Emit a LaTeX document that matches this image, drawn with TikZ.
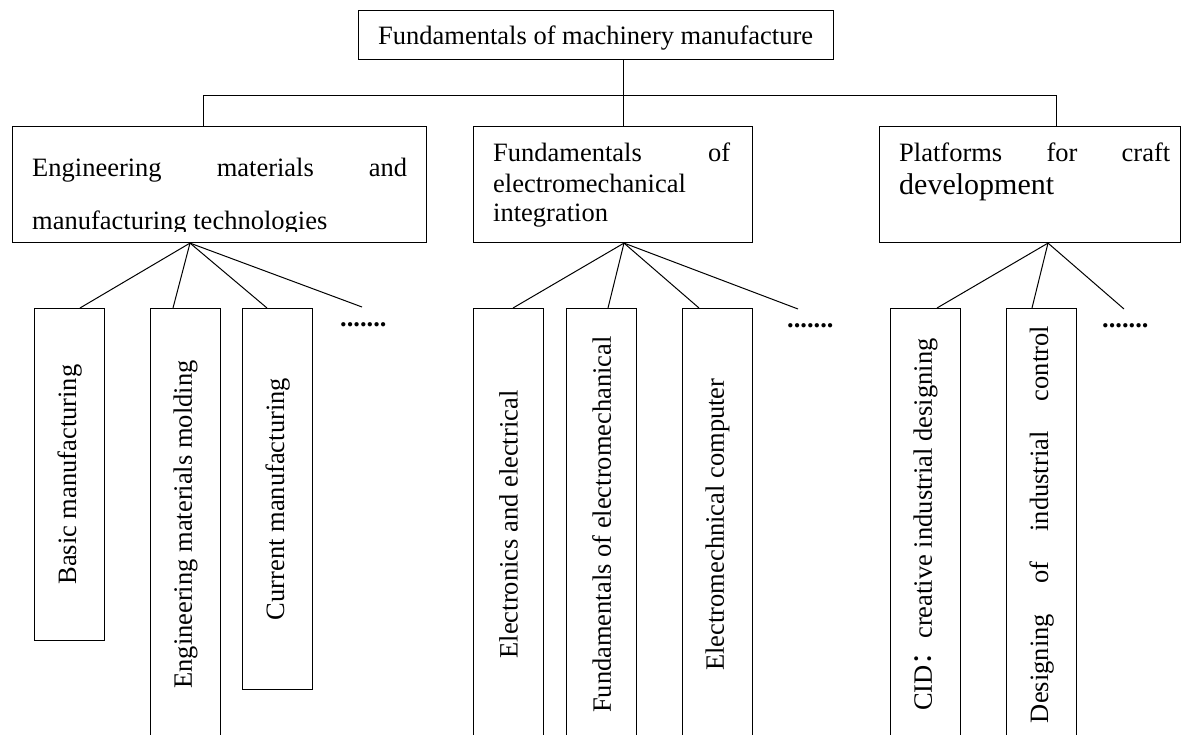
\documentclass[tikz,border=0pt]{standalone}
\usepackage{fontspec}
\setmainfont{Liberation Serif}
\newfontfamily\cjk{Noto Sans CJK SC}
\begin{document}
\begin{tikzpicture}[x=1pt,y=-1pt,
  box/.style={draw, line width=1.1pt, inner sep=0pt, anchor=north west},
  lbl/.style={inner sep=0pt, anchor=base west, font=\fontsize{26.5}{30}\selectfont},
  vbox/.style={draw, line width=1.1pt, inner sep=0pt, minimum width=70pt, anchor=north west, font=\fontsize{26.5}{30}\selectfont},
  link/.style={line width=1pt},
  dots/.style={inner sep=0pt, anchor=base west, font=\fontsize{26.5}{30}\selectfont\bfseries}]
\useasboundingbox (0,0) rectangle (1183,735);
\clip (0,0) rectangle (1183,735);
% top
\node[box, minimum width=475pt, minimum height=49pt] (top) at (358,10) {};
\node[lbl] (toptxt) at (378,45) {Fundamentals of machinery manufacture};
% second level boxes
\node[box, minimum width=414pt, minimum height=116pt] (b1) at (12,126) {};
\node[box, minimum width=279pt, minimum height=116pt] (b2) at (473,126) {};
\node[box, minimum width=301pt, minimum height=116pt] (b3) at (879,126) {};
\node[lbl] (b1t1) at (32,177) {\hbox to 375pt{Engineering\hfill materials\hfill and}};
\begin{scope}
  \clip (12,126) rectangle (426,232);
  \node[lbl] (b1t2) at (32,230) {manufacturing technologies};
\end{scope}
\node[lbl] (b2t1) at (493,162) {\hbox to 237pt{Fundamentals\hfill of}};
\node[lbl] (b2t2) at (493,193) {electromechanical};
\node[lbl] (b2t3) at (493,222) {integration};
\node[lbl] (b3t1) at (899,162) {\hbox to 271pt{Platforms\hfill for\hfill craft}};
\node[lbl, font=\fontsize{30}{34}\selectfont] (b3t2) at (899,195) {development};
% tree from top
\coordinate (bus) at (0,96);
\coordinate (j1) at ([xshift=191pt]b1.north west);
\coordinate (j2) at ([xshift=150pt]b2.north west);
\coordinate (j3) at ([xshift=177pt]b3.north west);
\draw[link] (j2 |- top.south) -- (j2);
\draw[link] (j1) -- (j1 |- bus) -- (j3 |- bus) -- (j3);
% third level boxes
\node[vbox, minimum height=332pt] (c11) at (34,308) {\rotatebox{90}{Basic manufacturing}};
\node[vbox, minimum height=432pt] (c12) at (150,308) {\rotatebox{90}{Engineering materials molding}};
\node[vbox, minimum height=381pt] (c13) at (242,308) {\rotatebox{90}{Current manufacturing}};
\node[vbox, minimum height=432pt] (c21) at (473,308) {\rotatebox{90}{Electronics and electrical}};
\node[vbox, minimum height=432pt] (c22) at (566,308) {\rotatebox{90}{Fundamentals of electromechanical}};
\node[vbox, minimum height=432pt] (c23) at (682,308) {\rotatebox{90}{Electromechnical computer}};
\node[vbox, minimum height=432pt] (c31) at (890,308) {\rotatebox{90}{CID{\cjk ：}creative industrial designing}};
\node[vbox, minimum height=432pt] (c32) at (1006,308) {\rotatebox{90}{\hbox to 397pt{Designing\hfill of\hfill industrial\hfill control}}};
\node[dots] (d1) at (340,326) {.......};
\node[dots] (d2) at (787,327) {.......};
\node[dots] (d3) at (1102,327) {.......};
\coordinate (e1) at (362,307);
\coordinate (e2) at (798,309);
\coordinate (e3) at (1124,309);
% fan connectors
\coordinate (p1) at ([xshift=178pt]b1.south west);
\coordinate (p2) at ([xshift=151pt]b2.south west);
\coordinate (p3) at ([xshift=169pt]b3.south west);
\draw[link] (p1) -- ([xshift=46pt]c11.north west);
\draw[link] (p1) -- ([xshift=23pt]c12.north west);
\draw[link] (p1) -- ([xshift=25pt]c13.north west);
\draw[link] (p1) -- (e1);
\draw[link] (p2) -- ([xshift=40pt]c21.north west);
\draw[link] (p2) -- ([xshift=42pt]c22.north west);
\draw[link] (p2) -- ([xshift=17pt]c23.north west);
\draw[link] (p2) -- (e2);
\draw[link] (p3) -- ([xshift=47pt]c31.north west);
\draw[link] (p3) -- ([xshift=26pt]c32.north west);
\draw[link] (p3) -- (e3);
\end{tikzpicture}
\end{document}
